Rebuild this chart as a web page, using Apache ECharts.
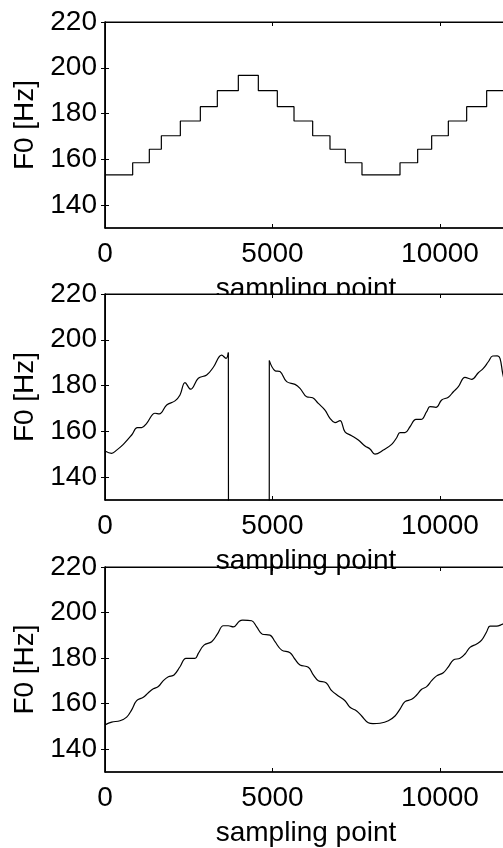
<!DOCTYPE html>
<html>
<head>
<meta charset="utf-8">
<script src="https://cdn.jsdelivr.net/npm/echarts@6/dist/echarts.min.js"></script>
<style>
html,body{margin:0;padding:0;overflow:hidden;background:#fff;}
#c{width:520px;height:848px;}
</style>
</head>
<body>
<div id="c"></div>
<script>
// ---- data ----
const xTicks = [0, 5000, 10000];
const yTicks = [140, 160, 180, 200, 220];
const xName = 'sampling point';
const yName = 'F0 [Hz]';

// Plot 1: stepped F0
const stepX  = [0, 826, 1323, 1682, 2249, 2846, 3353, 3980, 4577, 5144, 5642, 6199, 6716, 7174, 7671, 8806, 9333, 9751, 10249, 10796, 11393, 12000];
const stepF0 = [153.2, 158.5, 164.4, 170.3, 176.75, 183.0, 190.0, 196.7, 190.0, 183.0, 176.75, 170.3, 164.4, 158.5, 153.2, 158.5, 164.4, 170.3, 176.75, 183.0, 190.0, 190.0];

// Plot 2: estimated F0 with unvoiced gap
const estAX  = [0, 199, 348, 547, 796, 965, 1094, 1244, 1493, 1622, 1841, 2090, 2239, 2388, 2557, 2786, 3035, 3234, 3483, 3612, 3682];
const estAF0 = [151.4, 150.4, 151.8, 154.3, 158.4, 161.6, 161.6, 163.5, 167.9, 167.6, 171.5, 173.3, 175.9, 181.3, 178.4, 183.2, 184.6, 188.0, 193.3, 191.9, 194.4];
const gapX   = [3682, 3692, 4900, 4905];
const gapF0  = [194.4, 0, 0, 190.9];
const estBX  = [4905, 5075, 5224, 5423, 5672, 5821, 6020, 6199, 6368, 6567, 6716, 6866, 7015, 7164, 7363, 7562, 7761, 7910, 8060, 8308, 8557, 8706, 8806, 8955, 9104, 9283, 9433, 9602, 9701, 9880, 10050, 10249, 10399, 10548, 10746, 10945, 11144, 11293, 11442, 11572, 11711, 11791, 11870, 12000];
const estBF0 = [190.9, 186.5, 186.1, 181.7, 180.5, 178.8, 175.1, 174.7, 172.2, 169.3, 165.7, 163.8, 164.7, 159.8, 158.1, 156.2, 153.6, 152.3, 150.0, 151.8, 154.3, 157.2, 159.4, 159.4, 162.0, 165.2, 165.2, 168.6, 170.8, 170.5, 173.7, 174.9, 177.3, 179.5, 183.6, 182.7, 185.6, 187.5, 190.4, 192.9, 193.0, 191.9, 185.4, 177.0];

// Plot 3: smoothed F0
const smX  = [0, 199, 448, 647, 796, 945, 1144, 1294, 1443, 1592, 1741, 1891, 2060, 2239, 2418, 2687, 2786, 2955, 3184, 3353, 3532, 3682, 3831, 4010, 4110, 4379, 4528, 4697, 4925, 5075, 5274, 5523, 5672, 5821, 6070, 6219, 6368, 6597, 6766, 6965, 7164, 7313, 7512, 7662, 7860, 8000, 8209, 8458, 8657, 8806, 8955, 9154, 9303, 9453, 9602, 9751, 9900, 10099, 10249, 10399, 10597, 10746, 10895, 11094, 11243, 11393, 11492, 11691, 11870, 12000];
const smF0 = [150.7, 151.9, 152.5, 154.1, 157.3, 161.3, 162.8, 164.8, 166.5, 167.5, 170.1, 171.8, 172.6, 176.2, 179.9, 179.9, 182.1, 185.7, 187.2, 190.5, 194.2, 194.2, 193.7, 196.2, 196.7, 196.4, 193.7, 190.5, 190.1, 187.2, 183.5, 182.4, 179.5, 177.0, 176.0, 172.6, 170.1, 169.2, 165.7, 163.4, 161.3, 158.4, 156.8, 154.6, 151.6, 151.2, 151.4, 152.5, 154.6, 157.6, 160.9, 161.9, 163.8, 166.3, 167.5, 170.1, 172.2, 173.6, 176.2, 179.2, 179.9, 181.8, 184.7, 186.2, 187.9, 191.6, 194.0, 194.0, 194.9, 195.5];

// ---- build ----
const zip = (a, b) => a.map((v, i) => [v, b[i]]);
const FONT = 'Liberation Sans, Arial, sans-serif';
const FS = 28;
const grids = [
  {left: 105, right: 13, top: 22, height: 206},
  {left: 105, right: 13, top: 294, height: 206},
  {left: 105, right: 13, top: 567, height: 205}
];
const xAxes = [], yAxes = [];
grids.forEach((g, i) => {
  g.show = true;
  g.backgroundColor = '#fff';
  g.borderColor = '#000';
  g.borderWidth = 1;
  g.z = i === 0 ? 0 : 1;
  const az = i === 0 ? 0 : 3;
  xAxes.push({
    type: 'value', gridIndex: i, position: 'bottom', min: 0, max: 12000, z: az,
    axisLine: {show: true, lineStyle: {color: '#000', width: 1.5}},
    axisTick: {show: true, inside: true, length: 4, customValues: xTicks, lineStyle: {color: '#000', width: 1}},
    axisLabel: {show: true, customValues: xTicks, color: '#000', fontSize: FS, fontFamily: FONT, margin: 12,
      formatter: v => String(v)},
    splitLine: {show: false},
    name: xName, nameLocation: 'middle', nameGap: 47,
    nameTextStyle: {color: '#000', fontSize: FS, fontFamily: FONT}
  });
  xAxes.push({
    type: 'value', gridIndex: i, position: 'top', min: 0, max: 12000, z: az,
    axisLine: {show: true, lineStyle: {color: '#000', width: 1}},
    axisTick: {show: true, inside: true, length: 4, customValues: xTicks, lineStyle: {color: '#000', width: 1}},
    axisLabel: {show: false},
    splitLine: {show: false}
  });
  yAxes.push({
    type: 'value', gridIndex: i, position: 'left', min: 130, max: 220, z: az,
    axisLine: {show: true, lineStyle: {color: '#000', width: 1.5}},
    axisTick: {show: true, inside: true, length: 4, customValues: yTicks, lineStyle: {color: '#000', width: 1}},
    axisLabel: {show: true, customValues: yTicks, color: '#000', fontSize: FS, fontFamily: FONT, margin: 8,
      padding: [4, 0, 0, 0], formatter: v => String(v)},
    splitLine: {show: false},
    name: yName, nameLocation: 'middle', nameGap: 52, nameRotate: 90,
    nameTextStyle: {color: '#000', fontSize: FS, fontFamily: FONT}
  });
  yAxes.push({
    type: 'value', gridIndex: i, position: 'right', min: 130, max: 220, z: az,
    axisLine: {show: true, lineStyle: {color: '#000', width: 1}},
    axisTick: {show: true, inside: true, length: 4, customValues: yTicks, lineStyle: {color: '#000', width: 1}},
    axisLabel: {show: false},
    splitLine: {show: false}
  });
});

const lineBase = {type: 'line', showSymbol: false, symbol: 'none', animation: false, z: 4,
  lineStyle: {color: '#000', width: 1.2}, clip: true};
const series = [
  Object.assign({}, lineBase, {xAxisIndex: 0, yAxisIndex: 0, step: 'end', data: zip(stepX, stepF0)}),
  Object.assign({}, lineBase, {xAxisIndex: 2, yAxisIndex: 2, smooth: 0.4, data: zip(estAX, estAF0)}),
  Object.assign({}, lineBase, {xAxisIndex: 2, yAxisIndex: 2, data: zip(gapX, gapF0)}),
  Object.assign({}, lineBase, {xAxisIndex: 2, yAxisIndex: 2, smooth: 0.4, data: zip(estBX, estBF0)}),
  Object.assign({}, lineBase, {xAxisIndex: 4, yAxisIndex: 4, smooth: 0.4, data: zip(smX, smF0)})
];

const chart = echarts.init(document.getElementById('c'), null, {renderer: 'canvas'});
chart.setOption({
  animation: false,
  backgroundColor: '#fff',
  grid: grids,
  xAxis: xAxes,
  yAxis: yAxes,
  series: series
});
</script>
</body>
</html>
